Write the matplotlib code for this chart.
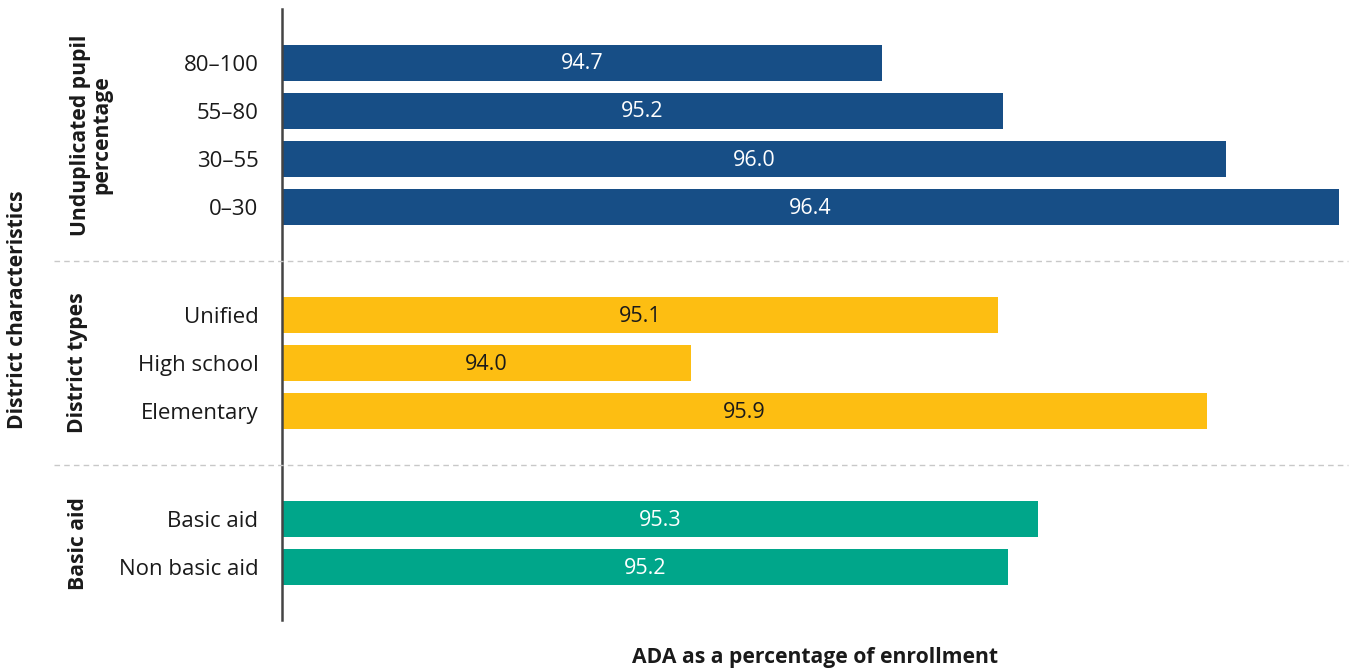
import matplotlib
matplotlib.use("Agg")
import matplotlib.pyplot as plt

plt.rcParams['font.family'] = ['Open Sans', 'DejaVu Sans']

# Data (bar lengths; labels show one decimal)
groups = ["Unduplicated pupil\npercentage", "District types", "Basic aid"]
group_categories = [
    ["80\u2013100", "55\u201380", "30\u201355", "0\u201330"],
    ["Unified", "High school", "Elementary"],
    ["Basic aid", "Non basic aid"],
]
group_values = [
    [94.71, 95.16, 95.99, 96.41],
    [95.14, 94.00, 95.92],
    [95.29, 95.18],
]
group_colors = ["#174e86", "#fdbe12", "#00a68a"]
label_colors = ["white", "#1a1a1a", "white"]
x_title = "ADA as a percentage of enrollment"
y_title = "District characteristics"

W, H = 1351, 671
fig = plt.figure(figsize=(W / 100, H / 100), dpi=100)
ax_left, ax_right, ax_top, ax_bot = 282, 1342, 9, 620
ax = fig.add_axes([ax_left / W, 1 - ax_bot / H, (ax_right - ax_left) / W, (ax_bot - ax_top) / H])

gap = 1.25
positions = []
pos = 0.0
for cats in group_categories:
    p = [pos + i for i in range(len(cats))]
    positions.append(p)
    pos = p[-1] + 1 + gap

FS_TICK = 16
FS_VAL = 15.5
FS_BOLD = 15.2
xmin, xmax = 92.48, 96.42
for gi, (cats, vals) in enumerate(zip(group_categories, group_values)):
    ys = positions[gi]
    ax.barh(ys, [v - xmin for v in vals], left=xmin, height=0.75, color=group_colors[gi])
    for y, v in zip(ys, vals):
        ax.text((xmin + v) / 2, y + 0.02, f"{v:.1f}", ha="center", va="center",
                fontsize=FS_VAL, color=label_colors[gi])

all_pos = [p for ps in positions for p in ps]
all_cats = [c for cs in group_categories for c in cs]
ax.set_yticks(all_pos)
ax.set_yticklabels(all_cats, fontsize=FS_TICK, color="#1a1a1a")
ax.tick_params(axis="y", length=0, pad=17)
ax.set_xticks([])
ax.set_xlim(xmin, xmax)
ax.set_ylim(11.6, -1.125)

for s in ["top", "right", "bottom"]:
    ax.spines[s].set_visible(False)
ax.spines["left"].set_color("#444444")
ax.spines["left"].set_linewidth(1.8)

def ypix(y):
    d = ax.transData.transform((xmin, y))
    return fig.transFigure.inverted().transform(d)[1]

for gi in range(len(positions) - 1):
    ysep = (positions[gi][-1] + positions[gi + 1][0]) / 2
    yf = ypix(ysep)
    fig.add_artist(plt.Line2D([54 / W, 1348 / W], [yf, yf], color="#c8c8c8",
                              linewidth=1.0, linestyle=(0, (4, 3)),
                              transform=fig.transFigure))

for gi, g in enumerate(groups):
    yc = ypix((positions[gi][0] + positions[gi][-1]) / 2)
    fig.text(91 / W if "\n" in g else 78 / W, yc, g, rotation=90, ha="center", va="center",
             fontsize=FS_BOLD, fontweight="bold", color="#1a1a1a", linespacing=1.0,
             multialignment="center")

fig.text(18 / W, 1 - 310 / H, y_title, rotation=90, ha="center", va="center",
         fontsize=FS_BOLD, fontweight="bold", color="#1a1a1a")
fig.text(815 / W, 1 - 657 / H, x_title, ha="center", va="center",
         fontsize=FS_BOLD, fontweight="bold", color="#1a1a1a")

fig.savefig("out.png", dpi=100, facecolor="white")
